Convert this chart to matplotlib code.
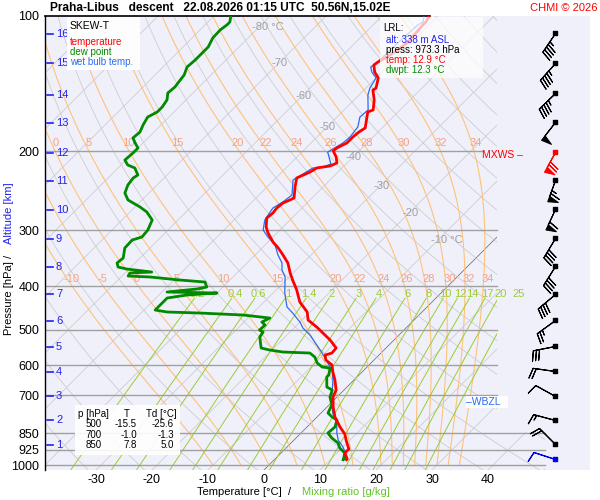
import numpy as np
import matplotlib
matplotlib.use("Agg")
import matplotlib.pyplot as plt
from matplotlib.transforms import Affine2D, IdentityTransform, blended_transform_factory, offset_copy
from matplotlib.path import Path
from matplotlib.patches import Rectangle
from matplotlib.ticker import NullLocator

plt.rcParams['font.family'] = ['Liberation Sans', 'DejaVu Sans']

# ------------------------------------------------------------------ data
pressure_levels = [100, 200, 300, 400, 500, 600, 700, 850, 925, 1000]
temp_ticks = [-30, -20, -10, 0, 10, 20, 30, 40]

temp_p = [100.0, 103.1, 104.7, 114.9, 120.9, 126.6, 128.6, 133.3, 137.4, 144.7,
          146.2, 153.8, 161.9, 163.6, 177.6, 181.3, 186.0, 191.8, 196.8, 199.8,
          206.1, 212.5, 215.8, 218.0, 222.6, 229.5, 240.3, 254.3, 256.9, 260.9,
          267.7, 274.6, 281.8, 295.1, 304.3, 318.7, 328.6, 340.6, 354.9, 373.6,
          387.3, 407.6, 433.5, 456.3, 475.5, 492.9, 526.8, 548.8, 563.1, 568.9,
          583.7, 598.8, 620.7, 646.7, 680.7, 705.6, 742.7, 781.7, 822.9, 853.0,
          879.7, 921.2, 940.3, 969.7, 973.3]
temp_t = [-51.6, -51.1, -51.1, -50.7, -51.4, -52.5, -52.7, -51.3, -49.6, -48.2,
          -48.4, -46.4, -44.8, -45.4, -43.0, -43.4, -43.6, -43.6, -44.5, -44.6,
          -43.0, -41.8, -42.5, -44.5, -45.0, -46.3, -45.0, -43.2, -43.6, -44.3,
          -44.5, -44.3, -44.5, -43.0, -41.6, -39.1, -37.1, -35.0, -32.7, -30.5,
          -28.8, -26.3, -23.6, -20.5, -18.9, -16.1, -11.4, -8.9, -8.75, -9.6,
          -8.6, -6.6, -5.2, -3.4, -1.4, -0.7, 1.1, 3.2, 5.9, 8.0,
          9.3, 11.4, 11.4, 12.9, 12.9]

dwpt_p = [100.0, 103.1, 104.7, 107.4, 111.9, 117.2, 120.9, 125.3, 129.9, 135.3,
          138.8, 143.9, 148.4, 153.8, 159.5, 163.6, 167.9, 174.9, 181.3, 186.9,
          191.8, 196.8, 201.9, 209.3, 214.7, 218.0, 226.0, 229.5, 237.9, 247.9,
          256.9, 266.3, 273.2, 284.7, 299.7, 310.6, 315.4, 328.6, 345.9, 354.9,
          362.3, 366.0, 371.7, 373.6, 379.4, 381.3, 387.3, 391.3, 401.4, 405.5,
          411.8, 413.9, 418.2, 424.7, 433.5, 451.7, 456.3, 458.7, 463.4, 470.6,
          480.4, 487.8, 500.4, 505.6, 518.7, 548.8, 554.5, 560.2, 563.1, 574.8,
          592.7, 605.0, 608.1, 630.3, 636.8, 670.3, 680.7, 705.6, 735.1, 765.9,
          781.7, 793.9, 822.9, 848.6, 870.7, 893.3, 916.5, 940.3, 964.8, 973.3]
dwpt_t = [-87.0, -86.1, -86.1, -86.4, -86.3, -85.5, -85.5, -85.5, -85.7, -84.8,
          -84.6, -84.3, -84.5, -83.4, -83.0, -83.0, -83.8, -83.2, -82.5, -82.7,
          -81.4, -80.0, -80.0, -80.2, -78.8, -77.0, -75.2, -75.5, -75.2, -74.3,
          -72.5, -69.1, -67.0, -64.6, -63.6, -63.4, -64.6, -64.5, -63.0, -63.2,
          -62.3, -60.4, -55.4, -59.1, -58.9, -54.8, -48.9, -44.1, -42.9, -44.3,
          -49.1, -40.0, -45.0, -48.0, -48.0, -48.0, -45.5, -39.5, -31.4, -26.1,
          -26.8, -25.7, -25.8, -24.8, -24.5, -22.3, -20.4, -17.7, -12.7, -11.1,
          -9.6, -8.0, -6.4, -5.4, -5.4, -3.6, -2.1, -1.25, 0.5, 1.25,
          2.7, 4.1, 5.0, 4.8, 6.4, 8.4, 9.6, 11.4, 12.1, 12.3]

wetb_p = [100.0, 103.1, 104.7, 119.0, 126.6, 129.9, 133.3, 137.4, 144.7, 150.0,
          161.9, 167.9, 176.7, 186.0, 191.8, 200.9, 213.6, 216.9, 218.0, 231.9,
          250.4, 259.6, 267.7, 284.7, 299.7, 310.6, 323.6, 340.6, 354.9, 367.9,
          381.3, 413.9, 444.7, 458.7, 480.4, 495.3, 513.4, 540.4, 563.1, 592.7,
          614.4, 646.7, 691.2, 735.1, 765.9, 806.2, 848.6, 879.7, 911.8, 935.5,
          959.8, 973.3]
wetb_t = [-52.5, -51.6, -52.0, -52.5, -52.5, -52.9, -51.8, -50.0, -49.3, -48.4,
          -45.7, -45.9, -44.5, -44.1, -44.3, -45.4, -42.7, -43.6, -45.2, -46.6,
          -44.1, -44.5, -45.2, -44.5, -43.0, -40.9, -38.2, -35.9, -33.75, -32.5,
          -30.7, -27.9, -25.0, -22.9, -20.0, -18.4, -15.9, -12.9, -10.5, -7.7,
          -5.7, -3.75, -1.6, 0.5, 2.1, 4.6, 6.4, 7.9, 10.0, 11.25,
          12.3, 12.5]

# wind barbs (direction deg, speed kt)
wind_p = [109.1, 127.3, 148.4, 172.2, 200.9, 231.9, 269.1, 312.2, 360.4,
          416.1, 475.5, 543.2, 617.5, 702.0, 793.9, 897.9, 969.7]
wind_dir = [214, 222, 226, 218, 209, 200, 205, 211, 212,
            230, 234, 259, 278, 299, 285, 315, 288]
wind_spd = [45, 45, 45, 50, 70, 65, 60, 40, 40,
            40, 25, 30, 20, 10, 15, 20, 10]
mxws_p = 200.9
lrl_p = 969.7

# altitude scale
alt_km = [16, 15, 14, 13, 12, 11, 10, 9, 8, 7, 6, 5, 4, 3, 2, 1]
alt_p = [109.7, 127.3, 150.0, 173.1, 201.9, 233.1, 270.4, 313.8, 362.3,
         416.0, 477.9, 545.9, 620.7, 702.0, 793.9, 902.5]

# isotherm labels
iso_lab_T = [-80, -70, -60, -50, -40, -30, -20, -10]
iso_lab_p = [105.8, 127.3, 150.7, 176.7, 206.1, 239.1, 274.6, 315.4]
iso_lab_txt = ['-80 °C', '-70', '-60', '-50', '-40', '-30', '-20', '-10 °C']

# moist adiabats (theta-w, deg C) and labels
theta_w = [-10, -5, 0, 5, 10, 15, 20, 22, 24, 26, 28, 30, 32, 34]
theta_w_top = [0, 5, 10, 15, 20, 22, 24, 26, 28, 30, 32, 34]
mix_ratios = [0.2, 0.4, 0.6, 1, 1.4, 2, 3, 4, 6, 8, 10, 12, 14, 17, 20, 25]

table_rows = [('500', '-15.5', '-25.6'), ('700', '-1.0', '-1.3'), ('850', '7.8', '5.0')]

# ------------------------------------------------------------------ figure
W, H = 600, 500
fig = plt.figure(figsize=(6, 5), dpi=100)
fig.patch.set_facecolor('white')


def fx(px):
    return px / W


def fy(py):
    return 1 - py / H


P_BOT = 1025.9
ax = fig.add_axes([45 / W, 30 / H, 545 / W, 454 / H])
ax.set_facecolor('#f0f0fb')
ax.set_yscale('log')
ax.set_ylim(P_BOT, 100)
ax.set_xlim(-39.107, 58.214)
for s in ['top', 'right', 'bottom']:
    ax.spines[s].set_visible(False)
ax.spines['left'].set_color('black')
ax.spines['left'].set_linewidth(1.0)

skew = ax.transData + Affine2D().translate(0, -30).skew_deg(45, 0).translate(0, 30)

clip_px = [(45, 16), (497, 16), (497, 432), (545, 432), (545, 470), (45, 470), (45, 16)]
clip_path = Path([(x, H - y) for x, y in clip_px], closed=True)


def clipped(lines):
    for ln in lines:
        ln.set_clip_path(clip_path, IdentityTransform())


GRID = '#cdcdcd'
# isotherms
for T in range(-160, 60, 10):
    col = '#777777' if T == 0 else GRID
    clipped(ax.plot([T, T], [1100, 100], transform=skew, color=col, lw=0.6, zorder=1))

# dry adiabats
pp = np.logspace(np.log10(100), np.log10(1100), 200)
for th in range(230, 500, 10):
    Tl = th * (pp / 1000.0) ** 0.286 - 273.15
    clipped(ax.plot(Tl, pp, transform=skew, color=GRID, lw=0.6, zorder=1))


# moist adiabats
def sat_mix(T, p):
    es = 6.112 * np.exp(17.67 * (T - 273.15) / (T - 29.65))
    return 0.622 * es / (p - es)


def moist_curve(tw, plev):
    Rd, Cp, Lv, eps = 287.04, 1005.7, 2.501e6, 0.622

    def f(T, p):
        r = sat_mix(T, p)
        return (Rd * T + Lv * r) / (Cp + Lv * Lv * r * eps / (Rd * T * T)) / p
    T = tw + 273.15
    out = [T]
    for i in range(1, len(plev)):
        p0, p1 = plev[i - 1], plev[i]
        h = p1 - p0
        k1 = f(T, p0)
        k2 = f(T + 0.5 * h * k1, p0 + 0.5 * h)
        k3 = f(T + 0.5 * h * k2, p0 + 0.5 * h)
        k4 = f(T + h * k3, p1)
        T = T + h * (k1 + 2 * k2 + 2 * k3 + k4) / 6
        out.append(T)
    return np.array(out) - 273.15


p_up = np.linspace(1000, 100, 361)
MOIST = '#ffc27a'
MLAB = '#f6a184'
moist = {}
for tw in theta_w:
    tc = moist_curve(tw, p_up)
    moist[tw] = tc
    clipped(ax.plot(tc, p_up, transform=skew, color=MOIST, lw=0.8, zorder=2))

mlab_tr = offset_copy(skew, fig=fig, x=4, y=0, units='dots')
for tw in theta_w_top:
    t_at = np.interp(191.8, p_up[::-1], moist[tw][::-1])
    ax.text(t_at, 191.8, str(tw), transform=mlab_tr, color=MLAB, fontsize=8,
            ha='center', va='center', zorder=3)
for tw in theta_w:
    t_at = np.interp(385.3, p_up[::-1], moist[tw][::-1])
    ax.text(t_at, 385.3, str(tw), transform=mlab_tr, color=MLAB, fontsize=8,
            ha='center', va='center', zorder=3)

# mixing ratio lines
MIXC = '#9acd32'
pm = np.linspace(425, 1100, 100)
for w in mix_ratios:
    e = w * pm / (622.0 + w)
    le = np.log(e / 6.112)
    td = 243.5 * le / (17.67 - le)
    clipped(ax.plot(td, pm, transform=skew, color=MIXC, lw=0.7, zorder=2))
    e0 = w * 416.0 / (622.0 + w)
    l0 = np.log(e0 / 6.112)
    t0 = 243.5 * l0 / (17.67 - l0)
    lab = ('%g' % w)
    ax.text(t0, 416.0, lab, transform=skew, color=MIXC, fontsize=8,
            ha='center', va='center', zorder=3)

# isotherm labels
lab_tr = offset_copy(skew, fig=fig, x=-7, y=0, units='dots')
for T, p, s in zip(iso_lab_T, iso_lab_p, iso_lab_txt):
    ax.text(T, p, s, transform=lab_tr, color='#a0a0a0', fontsize=8,
            ha='left', va='center', zorder=3)

# horizontal pressure lines
x_mid = (497 - 264) / 5.6
x_far = (545 - 264) / 5.6
x_200 = (482 - 264) / 5.6
for p in pressure_levels[1:]:
    xr = x_far if p >= 850 else (x_200 if p == 200 else x_mid)
    ax.plot([-39.107, xr], [p, p], color='#a0a0a0', lw=1.0, zorder=2.5)
ax.plot([-39.107, (430 - 264) / 5.6], [100, 100], color='black', lw=1.2, zorder=2.5, clip_on=False)

# profiles
ax.plot(wetb_t, wetb_p, transform=skew, color='#2a6cf0', lw=0.9, zorder=5)
ax.plot(dwpt_t, dwpt_p, transform=skew, color='#008a00', lw=2.0, zorder=6)
ax.plot(temp_t, temp_p, transform=skew, color='#ff0000', lw=2.0, zorder=7)

# axes ticks
ax.set_yticks(pressure_levels)
ax.set_yticklabels([str(p) for p in pressure_levels])
ax.yaxis.set_minor_locator(NullLocator())
ax.tick_params(axis='y', length=0, pad=4, labelsize=9)
ax.set_xticks(temp_ticks)
ax.set_xticklabels([str(t) for t in temp_ticks])
ax.tick_params(axis='x', length=0, pad=3, labelsize=9)

# altitude scale
blend = blended_transform_factory(ax.transAxes, ax.transData)
ALT = '#2222ee'
for km, p in zip(alt_km, alt_p):
    ax.plot([(47 - 45) / 545, (53 - 45) / 545], [p, p], transform=blend, color=ALT, lw=1.2,
            clip_on=False, zorder=8)
    ax.text((56 - 45) / 545, p, str(km), transform=blend, color=ALT, fontsize=8,
            ha='left', va='center', zorder=8)

# wind barbs
axb = fig.add_axes([45 / W, 30 / H, 545 / W, 454 / H])
axb.set_yscale('log')
axb.set_ylim(P_BOT, 100)
axb.set_xlim(0, 1)
axb.axis('off')
axb.patch.set_alpha(0)
xb = (555 - 45) / 545
wd = np.radians(np.array(wind_dir, dtype=float))
ws = np.array(wind_spd, dtype=float)
u = -ws * np.sin(wd)
v = -ws * np.cos(wd)
wp = np.array(wind_p)
cols = []
for p in wind_p:
    if p == mxws_p:
        cols.append('#ff0000')
    elif p == lrl_p:
        cols.append('#0000ee')
    else:
        cols.append('black')
for i in range(len(wind_p)):
    axb.barbs([xb], [wp[i]], [u[i]], [v[i]], length=5.7, linewidth=0.8,
              barbcolor=cols[i], flagcolor=cols[i], flip_barb=True,
              barb_increments=dict(half=5, full=10, flag=50),
              sizes=dict(spacing=0.14, height=0.45, width=0.25))
    axb.scatter([xb], [wp[i]], marker='s', s=9, color=cols[i], zorder=5)

# ------------------------------------------------------------------ boxes and texts
def box(x0, y0, x1, y1, alpha):
    fig.patches.append(Rectangle((fx(x0), fy(y1)), (x1 - x0) / W, (y1 - y0) / H,
                                 transform=fig.transFigure, facecolor='white',
                                 edgecolor='none', alpha=alpha, zorder=1))


box(67, 17, 140, 70, 0.92)
box(380, 17, 483, 78, 0.72)
box(75, 405, 180, 455, 0.9)
box(466, 396, 508, 408, 0.9)

fig.text(fx(50), fy(8), 'Praha-Libus   descent   22.08.2026 01:15 UTC  50.56N,15.02E',
         fontsize=8.6, fontweight='bold', ha='left', va='center')
fig.text(fx(597), fy(8), 'CHMI © 2026', fontsize=8, color='#ff0000', ha='right', va='center')

fig.text(fx(70), fy(26), 'SKEW-T', fontsize=7.5, ha='left', va='center')
fig.text(fx(70), fy(42), 'temperature', fontsize=7, color='#ff0000', ha='left', va='center')
fig.text(fx(70), fy(52), 'dew point', fontsize=7, color='#008a00', ha='left', va='center')
fig.text(fx(70), fy(62), 'wet bulb temp.', fontsize=7, color='#2a6cf0', ha='left', va='center')

fig.text(fx(383), fy(28), 'LRL:', fontsize=7, ha='left', va='center')
fig.text(fx(386), fy(40), 'alt: 338 m ASL', fontsize=7, color='#2222ee', ha='left', va='center')
fig.text(fx(386), fy(50), 'press: 973.3 hPa', fontsize=7, ha='left', va='center')
fig.text(fx(386), fy(60), 'temp: 12.9 °C', fontsize=7, color='#ff0000', ha='left', va='center')
fig.text(fx(386), fy(70), 'dwpt: 12.3 °C', fontsize=7, color='#008a00', ha='left', va='center')

fig.text(fx(78), fy(414), 'p [hPa]', fontsize=7, ha='left', va='center')
fig.text(fx(127), fy(414), 'T', fontsize=7, ha='center', va='center')
fig.text(fx(146), fy(414), 'Td [°C]', fontsize=7, ha='left', va='center')
for i, (pr, tt, td) in enumerate(table_rows):
    yy = 424 + i * 10.5
    fig.text(fx(102), fy(yy), pr, fontsize=7, ha='right', va='center')
    fig.text(fx(137), fy(yy), tt, fontsize=7, ha='right', va='center')
    fig.text(fx(174), fy(yy), td, fontsize=7, ha='right', va='center')

fig.text(fx(482), fy(155), 'MXWS –', fontsize=7.5, color='#ff0000', ha='left', va='center')
fig.text(fx(466), fy(402), '–WBZL', fontsize=7.5, color='#2a6cf0', ha='left', va='center')

fig.text(fx(197), fy(492), 'Temperature [°C]  /', fontsize=8, ha='left', va='center')
fig.text(fx(302), fy(492), 'Mixing ratio [g/kg]', fontsize=8, color='#66c22a', ha='left', va='center')

fig.text(fx(9), fy(298), 'Pressure [hPa]', fontsize=8, rotation=90, ha='center', va='center')
fig.text(fx(9), fy(256), '/', fontsize=8, rotation=90, ha='center', va='center')
fig.text(fx(9), fy(213), 'Altitude [km]', fontsize=8, rotation=90, color='#2222ee',
         ha='center', va='center')

fig.savefig('out.png', dpi=100)
